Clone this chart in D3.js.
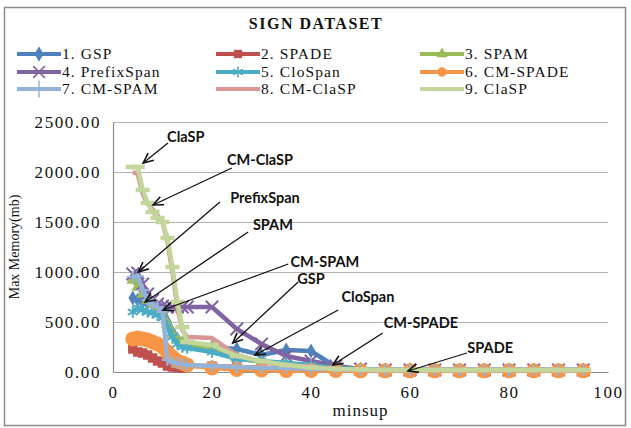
<!DOCTYPE html>
<html>
<head>
<meta charset="utf-8">
<script src="https://cdn.jsdelivr.net/npm/d3@7"></script>
<style>
  body { margin: 0; background: #fff; }
  svg { display: block; }
  .serif { font-family: "Liberation Serif", "Times New Roman", serif; fill: #111; }
  .note { font-family: Lato, "Open Sans", sans-serif; font-weight: bold; font-size: 14.5px; fill: #111; }
</style>
</head>
<body>
<svg id="chart"></svg>
<script>
var width = 631,
    height = 428;

// minsup values (x)
var minsup = [4, 5, 6, 7, 8, 9, 10, 11, 12, 13, 14, 15, 20, 25, 30, 35, 40, 45, 50, 55, 60, 65, 70, 75, 80, 85, 90, 95];

var names = ['1. GSP', '2. SPADE', '3. SPAM', '4. PrefixSpan', '5. CloSpan', '6. CM-SPADE', '7. CM-SPAM', '8. CM-ClaSP', '9. ClaSP'];

// max memory (mb) per algorithm, same order as minsup
var gsp        = [740, 720, 700, 690, 680, 650, 600, 500, 400, 330, 290, 270, 250, 230, 170, 220, 210, 50, 25, 20, 20, 20, 20, 20, 20, 20, 20, 20];
var spade      = [230, 200, 190, 170, 140, 110, 90, 60, 50, 45, 40, 60, 60, 50, 40, 30, 30, 20, 15, 15, 15, 15, 15, 15, 15, 15, 15, 15];
var spam       = [920, 850, 780, 720, 680, 640, 600, 480, 380, 320, 290, 270, 240, 140, 100, 70, 60, 40, 30, 20, 20, 20, 20, 20, 20, 20, 20, 20];
var prefixspan = [980, 990, 880, 780, 720, 680, 660, 650, 650, 650, 650, 650, 650, 430, 280, 160, 110, 60, 30, 20, 20, 20, 20, 20, 20, 20, 20, 20];
var clospan    = [600, 640, 620, 600, 590, 570, 540, 450, 350, 280, 250, 240, 200, 130, 110, 90, 70, 40, 30, 20, 20, 20, 20, 20, 20, 20, 20, 20];
var cmspade    = [330, 340, 330, 320, 300, 280, 250, 200, 150, 110, 90, 70, 40, 25, 20, 15, 15, 15, 12, 12, 12, 12, 12, 12, 12, 12, 12, 12];
var cmspam     = [950, 960, 820, 720, 680, 650, 600, 120, 100, 90, 80, 70, 60, 50, 40, 40, 30, 30, 20, 20, 20, 20, 20, 20, 20, 20, 20, 20];
var cmclasp    = [2000, 1980, 1780, 1680, 1630, 1560, 1500, 1300, 1000, 650, 420, 350, 340, 170, 100, 70, 50, 30, 20, 20, 20, 20, 20, 20, 20, 20, 20, 20];
var clasp      = [2050, 2050, 1820, 1690, 1600, 1540, 1500, 1340, 1050, 700, 450, 300, 270, 160, 110, 70, 45, 30, 25, 20, 20, 20, 20, 20, 20, 20, 20, 20];

var values = [gsp, spade, spam, prefixspan, clospan, cmspade, cmspam, cmclasp, clasp];
var colors = ['#4f81bd', '#c0504d', '#9bbb59', '#8064a2', '#4bacc6', '#f79646', '#95b3d7', '#d99694', '#c3d69b'];
var markers = ['diamond', 'square', 'triangle', 'times', 'asterisk', 'circle', 'plus', 'none', 'dash'];
var markerSize = [65, 90, 90, 80, 75, 180, 35, 0, 0];

var yTicks = [0, 500, 1000, 1500, 2000, 2500];
var xTicks = [0, 20, 40, 60, 80, 100];

// callouts: label, label point, arrow tail, arrow head (data units)
var noteText = ['ClaSP', 'CM-ClaSP', 'PrefixSpan', 'SPAM', 'CM-SPAM', 'GSP', 'CloSpan', 'CM-SPADE', 'SPADE'];
var noteAt   = [[14.7, 2350], [29.7, 2120], [30.7, 1740], [32.3, 1470], [42.8, 1100], [40, 930], [51.5, 750], [62.2, 490], [76.2, 240]];
var noteTail = [[11.1, 2290], [24, 2040], [21.6, 1700], [27.3, 1400], [35.4, 1080], [37.4, 900], [45.5, 620], [54.5, 390], [71.5, 190]];
var noteHead = [[6.1, 2090], [8.1, 1670], [5.1, 1000], [6.5, 700], [10.1, 620], [24.2, 290], [28.7, 170], [44.4, 70], [59.6, 10]];

var svg = d3.select('#chart')
	.attr('width', width)
	.attr('height', height);

svg.append('rect')
	.attr('x', 4.5)
	.attr('y', 7.5)
	.attr('width', 621)
	.attr('height', 418)
	.attr('fill', '#fff')
	.attr('stroke', '#8c8c8c')
	.attr('stroke-width', 1.5);

svg.append('text')
	.attr('class', 'serif')
	.attr('x', 316)
	.attr('y', 29)
	.attr('text-anchor', 'middle')
	.style('font-size', '16px')
	.style('font-weight', 'bold')
	.style('letter-spacing', '1.5px')
	.text('SIGN DATASET');

var x = d3.scaleLinear().domain([0, 100]).range([113, 608]);
var y = d3.scaleLinear().domain([0, 2500]).range([372, 122]);

var markerPath = function(kind, size) {
	if (kind === 'diamond') return d3.symbol(d3.symbolDiamond, size)();
	if (kind === 'square') return d3.symbol(d3.symbolSquare, size)();
	if (kind === 'triangle') return d3.symbol(d3.symbolTriangle, size * 0.8)();
	if (kind === 'circle') return d3.symbol(d3.symbolCircle, size)();
	if (kind === 'times') return d3.symbol(d3.symbolTimes, size * 1.3)();
	if (kind === 'asterisk') return d3.symbol(d3.symbolAsterisk, size * 1.2)();
	if (kind === 'plus') return d3.symbol(d3.symbolPlus, size * 1.4)();
	if (kind === 'dash') return 'M-7,0L7,0';
	return null;
}
var isStroke = k => k === 'times' || k === 'asterisk' || k === 'plus' || k === 'dash';

// grid
svg.append('g')
	.selectAll('line')
	.data(yTicks.slice(1))
	.enter()
	.append('line')
	.attr('x1', x(0))
	.attr('x2', x(100))
	.attr('y1', d => y(d) + 0.5)
	.attr('y2', d => y(d) + 0.5)
	.attr('stroke', '#b3b3b3')
	.attr('stroke-width', 1);

var yAxis = svg.append('g')
	.attr('transform', `translate(${x(0)},0)`)
	.call(d3.axisLeft(y).tickValues(yTicks).tickSize(0).tickPadding(12).tickFormat(d3.format('.2f')));
var xAxis = svg.append('g')
	.attr('transform', `translate(0,${y(0)})`)
	.call(d3.axisBottom(x).tickValues(xTicks).tickSize(0).tickPadding(14).tickFormat(d3.format('d')));

[yAxis, xAxis].forEach(a => {
	a.select('.domain').attr('stroke', '#8c8c8c').attr('stroke-width', 1.2);
	a.selectAll('text')
		.attr('class', 'serif')
		.style('font-size', '17px')
		.style('letter-spacing', '1.6px');
});

svg.append('text')
	.attr('class', 'serif')
	.attr('transform', `translate(19,${(y(0) + y(2500)) / 2}) rotate(-90)`)
	.attr('text-anchor', 'middle')
	.style('font-size', '14px')
	.text('Max Memory(mb)');

svg.append('text')
	.attr('class', 'serif')
	.attr('x', (x(0) + x(100)) / 2)
	.attr('y', 416)
	.attr('text-anchor', 'middle')
	.style('font-size', '17px')
	.style('letter-spacing', '1px')
	.text('minsup');

// series
var line = d3.line()
	.x((d, i) => x(minsup[i]))
	.y(d => y(d));

var series = svg.append('g')
	.selectAll('g')
	.data(values)
	.enter()
	.append('g');

series.append('path')
	.attr('d', line)
	.attr('fill', 'none')
	.attr('stroke', (d, i) => colors[i])
	.attr('stroke-width', 4.5)
	.attr('stroke-linejoin', 'round');

series.each(function(vals, si) {
	if (markers[si] === 'none') return;
	var p = markerPath(markers[si], markerSize[si]);
	d3.select(this)
		.selectAll('.pt')
		.data(vals)
		.enter()
		.append('path')
		.attr('class', 'pt')
		.attr('d', p)
		.attr('transform', (d, i) => `translate(${x(minsup[i])},${y(d)})`)
		.attr('fill', isStroke(markers[si]) ? 'none' : colors[si])
		.attr('stroke', colors[si])
		.attr('stroke-width', isStroke(markers[si]) ? (markers[si] === 'dash' ? 4.5 : 2) : 0);
});

// legend
var legendCols = [17, 216, 420];
var legendRows = [54, 72, 89];

var legend = svg.append('g')
	.selectAll('g')
	.data(names)
	.enter()
	.append('g')
	.attr('transform', (d, i) => `translate(${legendCols[i % 3]},${legendRows[Math.floor(i / 3)]})`);

legend.append('line')
	.attr('x1', 0)
	.attr('x2', 44)
	.attr('stroke', (d, i) => colors[i])
	.attr('stroke-width', 4);

legend.append('path')
	.attr('d', (d, i) => markerPath(markers[i], 70))
	.attr('transform', 'translate(22,0)')
	.attr('fill', (d, i) => isStroke(markers[i]) ? 'none' : colors[i])
	.attr('stroke', (d, i) => colors[i])
	.attr('stroke-width', (d, i) => isStroke(markers[i]) ? 1.5 : 0);

legend.append('text')
	.attr('class', 'serif')
	.attr('x', 45)
	.attr('dy', '0.33em')
	.style('font-size', '15.5px')
	.style('letter-spacing', '1.1px')
	.text(d => d);

// callouts
var notes = svg.append('g')
	.selectAll('g')
	.data(noteText)
	.enter()
	.append('g');

notes.append('line')
	.attr('x1', (d, i) => x(noteTail[i][0]))
	.attr('y1', (d, i) => y(noteTail[i][1]))
	.attr('x2', (d, i) => x(noteHead[i][0]))
	.attr('y2', (d, i) => y(noteHead[i][1]))
	.attr('stroke', '#111')
	.attr('stroke-width', 1.3);

notes.append('path')
	.attr('d', (d, i) => {
		var x0 = x(noteTail[i][0]), y0 = y(noteTail[i][1]);
		var x1 = x(noteHead[i][0]), y1 = y(noteHead[i][1]);
		var a = Math.atan2(y0 - y1, x0 - x1);
		var len = 11, spread = 0.42;
		var ax = x1 + len * Math.cos(a + spread), ay = y1 + len * Math.sin(a + spread);
		var bx = x1 + len * Math.cos(a - spread), by = y1 + len * Math.sin(a - spread);
		return `M${ax},${ay}L${x1},${y1}L${bx},${by}`;
	})
	.attr('fill', 'none')
	.attr('stroke', '#111')
	.attr('stroke-width', 1.6);

notes.append('text')
	.attr('class', 'note')
	.attr('x', (d, i) => x(noteAt[i][0]))
	.attr('y', (d, i) => y(noteAt[i][1]))
	.attr('dy', '0.35em')
	.attr('text-anchor', 'middle')
	.text(d => d);
</script>
</body>
</html>
